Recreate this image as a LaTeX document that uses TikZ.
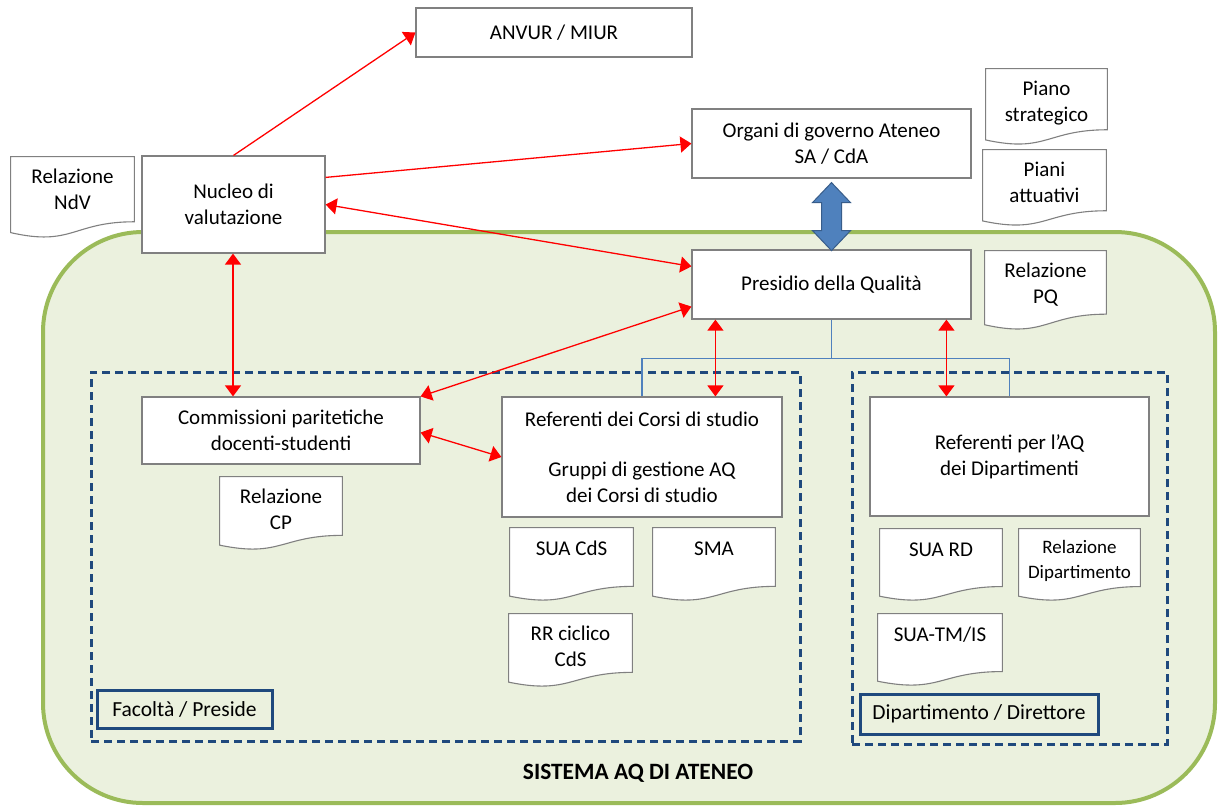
\documentclass[tikz,border=0pt]{standalone}
\usepackage{fontspec}
\setmainfont{Carlito}
\usetikzlibrary{arrows.meta,calc}
\definecolor{boxgray}{HTML}{808080}
\definecolor{sysgreen}{HTML}{9BBB59}
\definecolor{sysfill}{HTML}{EBF1DE}
\definecolor{navy}{HTML}{1F497D}
\definecolor{treeblue}{HTML}{4F81BD}
\definecolor{arrblue}{HTML}{4F81BD}
\definecolor{arrborder}{HTML}{385D8A}
\newcommand\docnode[7]{\node[doc, anchor=north west] (#1) at (#2,#3) {\parbox[c][#5pt][t]{#4pt}{\centering\vspace*{#6pt}\strut #7}};}
\begin{document}
\begin{tikzpicture}[x=1pt,y=-1pt,
  font=\fontsize{21}{26}\selectfont,
  box/.style={draw=boxgray, line width=1.2pt, fill=white, align=center, inner sep=0pt},
  region/.style={draw=navy, line width=3pt, dash pattern=on 8pt off 5pt, inner sep=0pt},
  labelbox/.style={draw=navy, line width=3pt, inner sep=0pt, font=\fontsize{21.5}{25}\selectfont},
  system/.style={draw=sysgreen, fill=sysfill, line width=4pt, rounded corners=100pt, inner sep=0pt},
  redarr/.style={draw=red, line width=1.3pt, {Triangle[length=11pt,width=16pt]}-{Triangle[length=11pt,width=16pt]}},
  redone/.style={draw=red, line width=1.3pt, -{Triangle[length=11pt,width=16pt]}},
  tree/.style={draw=treeblue, line width=1.6pt},
  bluearr/.style={fill=arrblue, draw=arrborder, line width=1pt},
  doc/.style={inner sep=0pt, outer sep=0pt,
    path picture={\draw[line width=1.1pt, draw=boxgray, fill=white]
      ($(path picture bounding box.north west)+(.6pt,-.6pt)$) --
      ($(path picture bounding box.north east)+(-.6pt,-.6pt)$) --
      ($(path picture bounding box.north east)!0.802!(path picture bounding box.south east)+(-.6pt,0pt)$)
      .. controls ($(path picture bounding box.north)!0.802!(path picture bounding box.south)$)
      and ($(path picture bounding box.north)!1.1075!(path picture bounding box.south)$) ..
      ($(path picture bounding box.north west)!0.934!(path picture bounding box.south west)+(.6pt,0pt)$) -- cycle;}}
]
\useasboundingbox (0,0) rectangle (1218,807);
\fill[white] (0,0) rectangle (1218,807);

% system area
\node[system, minimum width=1172pt, minimum height=571pt] (sys) at (629,517.5) {};
\node[font=\fontsize{23.4}{28}\selectfont\bfseries] (systitle) at (638,773) {SISTEMA AQ DI ATENEO};

% dashed regions
\node[region, minimum width=709pt, minimum height=369pt] (facreg) at (445.5,556.5) {};
\node[region, minimum width=315pt, minimum height=372pt] (dipreg) at (1009.5,558) {};
\node[labelbox, minimum width=175pt, minimum height=38pt] (facolta) at (184.5,709) {Facoltà / Preside};
\node[labelbox, minimum width=238pt, minimum height=40pt] (dipart) at (979,714) {Dipartimento / Direttore};

% boxes
\node[box, minimum width=276pt, minimum height=49pt] (anvur) at (554,32.5) {ANVUR / MIUR};
\node[box, minimum width=279pt, minimum height=69pt] (organi) at (831.5,143.5) {Organi di governo Ateneo\\SA / CdA};
\node[box, minimum width=183pt, minimum height=97pt] (nucleo) at (233.5,204.5) {Nucleo di\\valutazione};
\node[box, minimum width=279pt, minimum height=69pt] (presidio) at (831.5,284.5) {Presidio della Qualità};
\node[box, minimum width=278pt, minimum height=67pt] (commiss) at (281,430.5) {Commissioni paritetiche\\docenti-studenti};
\node[box, minimum width=280pt, minimum height=120pt] (refcds) at (642,457) {Referenti dei Corsi di studio\\[24pt]Gruppi di gestione AQ\\dei Corsi di studio};
\node[box, minimum width=279pt, minimum height=119pt] (refaq) at (1009.5,456.5) {Referenti per l’AQ\\dei Dipartimenti};

% documents
\docnode{ndv}{10}{156}{125}{82}{9}{Relazione\\NdV}
\docnode{piano}{985}{68}{123}{77}{9}{Piano\\strategico}
\docnode{piani}{982}{149}{125}{77}{9}{Piani\\attuativi}
\docnode{relpq}{984}{250}{123}{80}{9}{Relazione\\PQ}
\docnode{relcp}{219}{476}{124}{74}{9}{Relazione\\CP}
\docnode{suacds}{509}{527}{125}{74}{10}{SUA CdS}
\docnode{sma}{652}{527}{124}{74}{10}{SMA}
\docnode{rrcds}{508}{613}{125}{74}{9}{RR ciclico\\CdS}
\docnode{suard}{879}{528}{124}{73}{10}{SUA RD}
\node[doc, anchor=north west] (reldip) at (1018,528) {\parbox[c][73pt][t]{123pt}{\centering\fontsize{19}{25}\selectfont\vspace*{7.5pt}\strut Relazione\\Dipartimento}};
\docnode{suatm}{877}{613}{126}{73}{10}{SUA-TM/IS}

% blue double arrow between Organi and Presidio
\draw[bluearr] ($(organi.south)+(0,4)$) -- ++(19,20) -- ++(-9,0) -- ++(0,28) -- ++(9,0)
  -- ++(-19,20) -- ++(-19,-20) -- ++(9,0) -- ++(0,-28) -- ++(-9,0) -- cycle;

% tree
\draw[tree] (presidio.south) -- ++(0,39) coordinate (tj) -| (refcds.north);
\draw[tree] (tj) -| (refaq.north);

% red connectors
\draw[redone] (nucleo.north) -- (anvur.west);
\draw[redone] ($(nucleo.north east)+(0,22)$) -- (organi.west);
\draw[redarr] (nucleo.east) -- ($(presidio.north west)+(0,17)$);
\draw[redarr] ($(nucleo.south)+(-0.5,0)$) coordinate (nc) -- (commiss.north -| nc);
\draw[redarr] ($(presidio.south west)+(0,-13)$) -- (commiss.north east);
\draw[redarr] ($(commiss.east)+(0,2)$) -- (refcds.west);
\draw[redarr] ($(presidio.south west)+(24,0)$) coordinate (pa) -- (refcds.north -| pa);
\draw[redarr] ($(presidio.south west)+(255,0)$) coordinate (pb) -- (refaq.north -| pb);
\end{tikzpicture}
\end{document}
